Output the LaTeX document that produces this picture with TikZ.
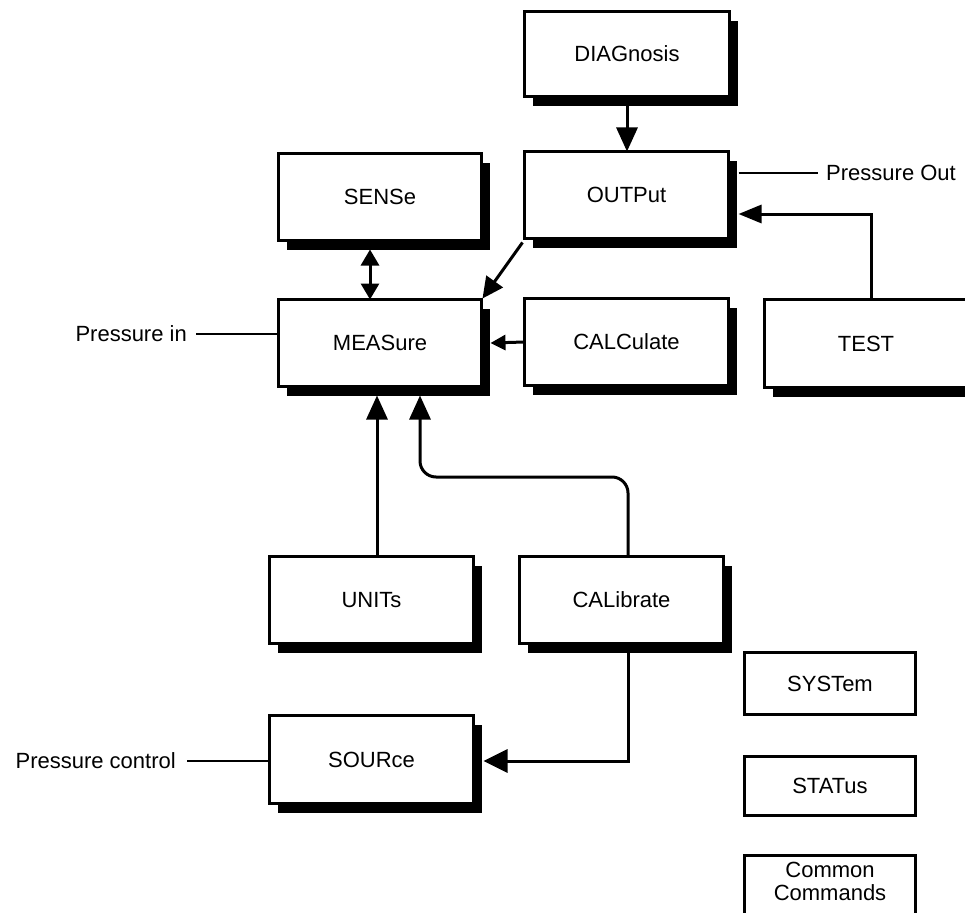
\documentclass[tikz,border=0pt]{standalone}
\usepackage{fontspec}
\setmainfont{Liberation Sans}
\usetikzlibrary{arrows.meta,shadows,calc}
\begin{document}
\begin{tikzpicture}[x=1pt,y=-1pt,
  txt/.style={font=\fontsize{22}{23}\selectfont},
  box/.style={txt, draw=black, line width=3pt, fill=white, inner sep=0pt, outer sep=0pt, align=center},
  wh/.style 2 args={minimum width=#1pt, minimum height=#2pt},
  sbox/.style={box, drop shadow={shadow xshift=8.5pt, shadow yshift=-9.5pt, opacity=1, fill=black}},
  pbox/.style={box, line width=3.5pt},
  conn/.style={line width=3pt, -{Triangle[length=24pt,width=21pt]}},
  sconn/.style={line width=3pt, -{Triangle[length=15pt,width=15pt]}},
  dconn/.style={line width=3pt, {Triangle[length=16pt,width=18pt]}-{Triangle[length=16pt,width=18pt]}},
  thin/.style={line width=1.2pt},
  lbl/.style={txt, inner sep=0pt}
]
\useasboundingbox (0,0) rectangle (965,912);
\clip (0,0) rectangle (965,912);

\node[sbox, wh={205}{85}] (diag) at (627,54) {DIAGnosis};
\node[sbox, wh={204}{87}] (outp) at (626.5,195) {OUTPut};
\node[sbox, wh={203}{87}] (sens) at (380,197) {SENSe};
\node[sbox, wh={203}{87}] (meas) at (380,343) {MEASure};
\node[sbox, wh={204}{87}] (calc) at (626.5,342) {CALCulate};
\node[sbox, wh={203}{88}] (test) at (866,343.5) {TEST};
\node[sbox, wh={204}{87}] (units) at (371.5,600) {UNITs};
\node[sbox, wh={204}{87}] (calib) at (621.5,600) {CALibrate};
\node[sbox, wh={204}{88}] (sour) at (371.5,759.5) {SOURce};

\node[pbox, wh={171}{62}] (syst) at (830,683.5) {SYSTem};
\node[pbox, wh={171}{59}] (stat) at (830,786) {STATus};
\node[pbox, anchor=north, text width=171pt, text height=22pt, text depth=47pt] (comm) at (830,855.5) {Common\\Commands};

\node[lbl, anchor=east] (pin) at (187,334) {Pressure in};
\node[lbl, anchor=east] (pctl) at (176,761) {Pressure control};
\node[lbl, anchor=west] (pout) at (826,173) {Pressure Out};

% connectors
\draw[conn] (diag.south -| 627,0) -- (outp.north -| 627,0);
\draw[dconn] ($(sens.south)+(-10,9)$) -- ($(meas.north)+(-10,0)$);
\draw[conn, -{Triangle[length=21pt,width=20pt]}] ($(outp.south west)+(-2,4)$) -- ($(meas.north east)+(1,-1)$);
\draw[sconn] (calc.west) -- ($(meas.east)+(9,0)$);
\draw[conn, -{Triangle[length=23pt,width=18pt]}] (test.north -| 871,0) |- ($(outp.east)+(10,19)$);
\draw[conn] (units.north -| 377,0) -- ($(meas.south)+(-3,9)$);
\draw[conn, rounded corners=16pt] (calib.north -| 628,0) |- (420,477) -- ($(meas.south)+(40,9)$);
\draw[conn, -{Triangle[length=24pt,width=23pt]}] (calib.south -| 628,0) |- ($(sour.east)+(10,1.5)$);

\draw[thin] (pin.east) ++(9,0) -- (meas.west |- pin.east);
\draw[thin] (pctl.east) ++(11,0) -- (sour.west |- pctl.east);
\draw[thin] ($(outp.east)+(10,-22)$) -- ($(pout.west)+(-8,0)$);
\end{tikzpicture}
\end{document}
